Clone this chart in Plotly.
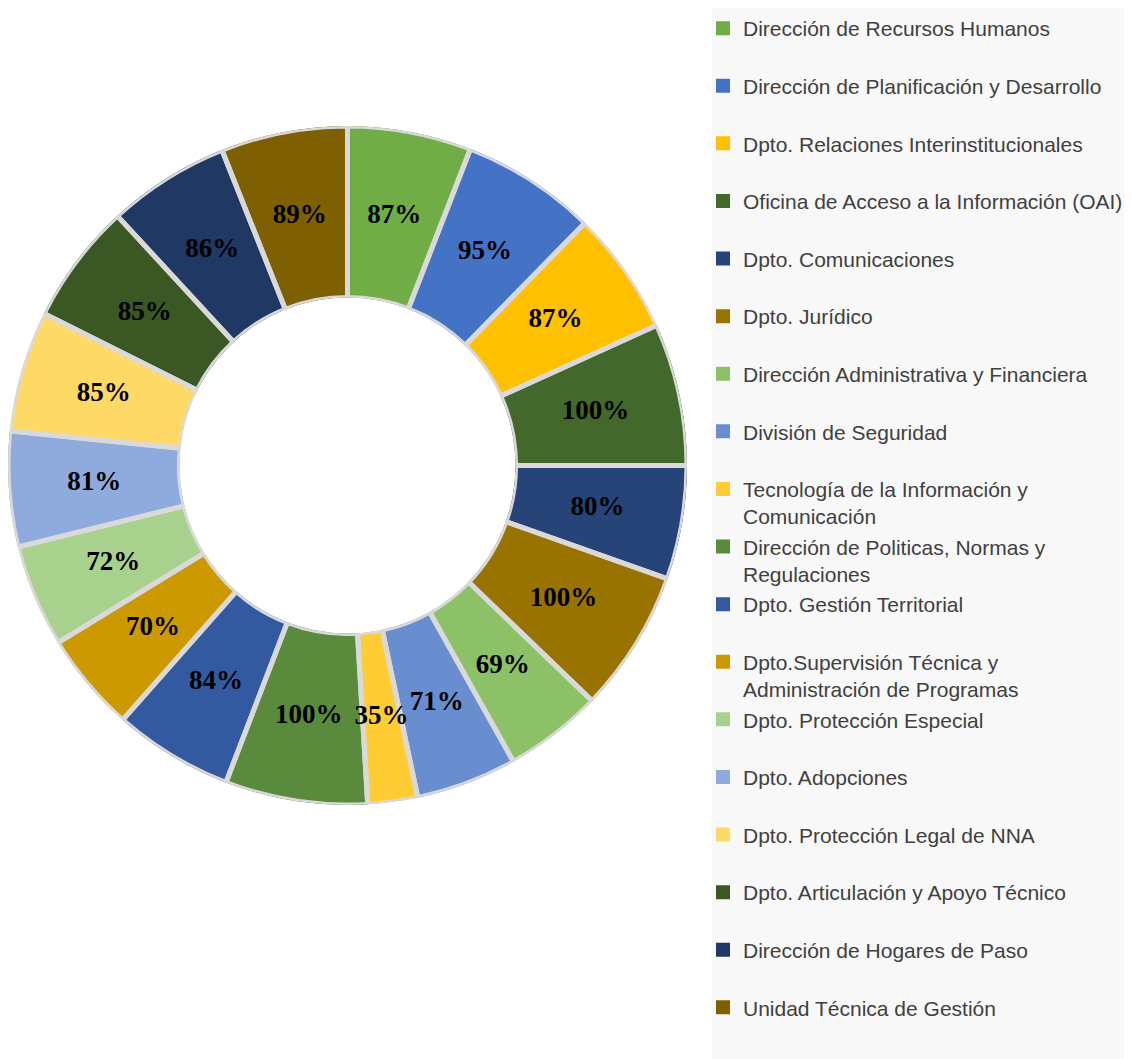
import plotly.graph_objects as go

labels = [
    "Dirección de Recursos Humanos",
    "Dirección de Planificación y Desarrollo",
    "Dpto. Relaciones Interinstitucionales",
    "Oficina de Acceso a la Información (OAI)",
    "Dpto. Comunicaciones",
    "Dpto. Jurídico",
    "Dirección Administrativa y Financiera",
    "División de Seguridad",
    "Tecnología de la Información y<br>Comunicación",
    "Dirección de Politicas, Normas y<br>Regulaciones",
    "Dpto. Gestión Territorial",
    "Dpto.Supervisión Técnica y<br>Administración de Programas",
    "Dpto. Protección Especial",
    "Dpto. Adopciones",
    "Dpto. Protección Legal de NNA",
    "Dpto. Articulación y Apoyo Técnico",
    "Dirección de Hogares de Paso",
    "Unidad Técnica de Gestión",
]
values = [87, 95, 87, 100, 80, 100, 69, 71, 35, 100, 84, 70, 72, 81, 85, 85, 86, 89]
colors = [
    "#70AD47", "#4472C4", "#FFC000", "#43682B", "#264478", "#997300",
    "#8CC168", "#698ED0", "#FFCD33", "#5A8A3C", "#335AA1", "#CC9A00",
    "#A9D18E", "#8FAADC", "#FFD966", "#3A5724", "#203864", "#7F6000",
]

# share of the full circle for each slice (degrees), slices laid end to end
total = sum(values)
widths = [v / total * 360 for v in values]
mids = []
acc = 0.0
for w in widths:
    mids.append(acc + w / 2)
    acc += w

# the page body has an 8px margin, so the figure is sized to fill the rest of the window
W, H = 1124, 1051
cx, cy, R = 339.5, 457.5, 339.5
domain = dict(x=[(cx - R) / W, (cx + R) / W], y=[(H - cy - R) / H, (H - cy + R) / H])

fig = go.Figure()
for lab, th, w, c in zip(labels, mids, widths, colors):
    name = lab if "<br>" in lab else lab + "<br> "
    fig.add_trace(go.Barpolar(
        r=[1], base=[0], theta=[th], width=[w], name=name,
        marker=dict(color=c, line=dict(color=c, width=2)),
        hoverinfo="skip",
    ))
# light grey separators between the slices
fig.add_trace(go.Barpolar(
    r=[1] * len(values), base=[0] * len(values), theta=mids, width=widths,
    marker=dict(color="rgba(0,0,0,0)", line=dict(color="#d9d9d9", width=5)),
    showlegend=False, hoverinfo="skip",
))
fig.add_trace(go.Scatterpolar(
    r=[0.5] * len(values), theta=mids, mode="text",
    text=[f"{v}%" for v in values],
    textfont=dict(family="Liberation Serif", size=27, color="black", weight="bold"),
    showlegend=False, hoverinfo="skip",
))

fig.update_layout(
    width=W, height=H,
    margin=dict(l=0, r=0, t=0, b=0),
    paper_bgcolor="white",
    polar=dict(
        domain=domain,
        hole=0.495,
        bargap=0,
        bgcolor="rgba(0,0,0,0)",
        radialaxis=dict(range=[0, 1], visible=False),
        angularaxis=dict(rotation=90, direction="clockwise", visible=False),
    ),
    shapes=[dict(type="rect", xref="paper", yref="paper", x0=704 / W, x1=1, y0=0, y1=1,
                 fillcolor="#f8f8f8", line=dict(width=0), layer="below")],
    legend=dict(
        x=695 / W, xanchor="left", y=1, yanchor="top",
        bgcolor="rgba(0,0,0,0)",
        font=dict(family="Liberation Sans", size=21, color="#404040"),
        valign="top",
        traceorder="normal",
    ),
)

fig.write_html("out.html")
